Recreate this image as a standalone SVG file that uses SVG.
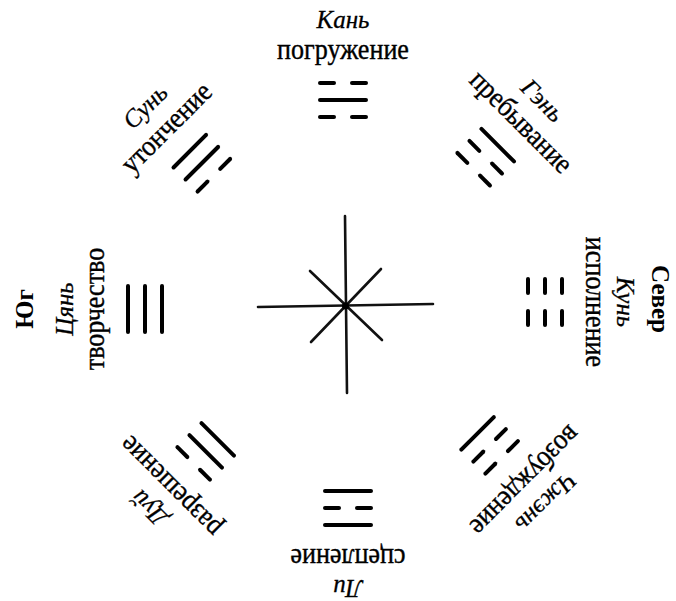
<svg xmlns="http://www.w3.org/2000/svg" width="676" height="601" viewBox="0 0 676 601">
<style>
.ln{stroke:#000;stroke-width:4;stroke-linecap:round;fill:none}
.star{stroke:#111;stroke-width:2.6;stroke-linecap:round}
.nm{font-family:"Liberation Serif","Times New Roman",serif;font-style:italic;font-size:25px;text-anchor:middle;fill:#000;stroke:#000;stroke-width:0.3}
.ds{font-family:"Liberation Serif","Times New Roman",serif;font-size:29px;text-anchor:middle;fill:#000;stroke:#000;stroke-width:0.4}
.dir{font-family:"Liberation Serif","Times New Roman",serif;font-weight:bold;font-size:25px;text-anchor:middle;fill:#000}
</style>
<defs>
<g id="yang"><line class="ln" x1="322" y1="0" x2="368" y2="0"/></g>
<g id="yin"><line class="ln" x1="322" y1="0" x2="336" y2="0"/><line class="ln" x1="354" y1="0" x2="368" y2="0"/></g>
</defs>
<rect width="676" height="601" fill="#fff"/>
<g id="connectors">
<line class="star" x1="345" y1="216" x2="347" y2="393"/>
<line class="star" x1="258" y1="307" x2="433" y2="304"/>
<line class="star" x1="310" y1="271" x2="382" y2="340"/>
<line class="star" x1="381" y1="269" x2="311" y2="342"/>
<circle cx="345.5" cy="306" r="3.5" fill="#000"/>
</g>
<g id="kan" transform="rotate(0 345 305) translate(-2,-2)">
<text class="nm" x="345" y="30">Кань</text>
<text class="ds" transform="translate(345 61) scale(0.9 1)">погружение</text>
<use href="#yin" y="85"/><use href="#yang" y="102"/><use href="#yin" y="119"/>
</g>
<g id="gen" transform="rotate(45 345 305) translate(-5,-1)">
<text class="nm" x="345" y="30">Гэнь</text>
<text class="ds" transform="translate(345 61) scale(0.9 1)">пребывание</text>
<use href="#yang" y="85"/><use href="#yin" y="102"/><use href="#yin" y="119"/>
</g>
<g id="kun" transform="rotate(90 345 305) translate(-3,3)">
<text class="nm" x="345" y="30">Кунь</text>
<text class="ds" transform="translate(345 61) scale(0.9 1)">исполнение</text>
<use href="#yin" y="85"/><use href="#yin" y="102"/><use href="#yin" y="119"/>
</g>
<g id="zhen" transform="rotate(135 345 305) translate(-3,1.5)">
<text class="nm" x="345" y="30">Чжэнь</text>
<text class="ds" transform="translate(345 61) scale(0.9 1)">возбуждение</text>
<use href="#yin" y="85"/><use href="#yin" y="102"/><use href="#yang" y="119"/>
</g>
<g id="li" transform="rotate(180 345 305) translate(-3,0)">
<text class="nm" x="345" y="30">Ли</text>
<text class="ds" transform="translate(345 61) scale(0.9 1)">сцепление</text>
<use href="#yang" y="85"/><use href="#yin" y="102"/><use href="#yang" y="119"/>
</g>
<g id="dui" transform="rotate(-135 345 305) translate(-5,1)">
<text class="nm" x="345" y="30">Дуй</text>
<text class="ds" transform="translate(345 61) scale(0.9 1)">разрешение</text>
<use href="#yin" y="85"/><use href="#yang" y="102"/><use href="#yang" y="119"/>
</g>
<g id="qian" transform="rotate(-90 345 305) translate(-4,3)">
<text class="nm" x="345" y="30">Цянь</text>
<text class="ds" transform="translate(345 61) scale(0.9 1)">творчество</text>
<use href="#yang" y="85"/><use href="#yang" y="102"/><use href="#yang" y="119"/>
</g>
<g id="sun" transform="rotate(-45 345 305) translate(-1,1.5)">
<text class="nm" x="345" y="30">Сунь</text>
<text class="ds" transform="translate(345 61) scale(0.9 1)">утончение</text>
<use href="#yang" y="85"/><use href="#yang" y="102"/><use href="#yin" y="119"/>
</g>
<g id="south" transform="translate(33,309) rotate(-90)">
<text class="dir" x="0" y="0">Юг</text>
</g>
<g id="north" transform="translate(652,299) rotate(90)">
<text class="dir" x="0" y="0">Север</text>
</g>
</svg>
